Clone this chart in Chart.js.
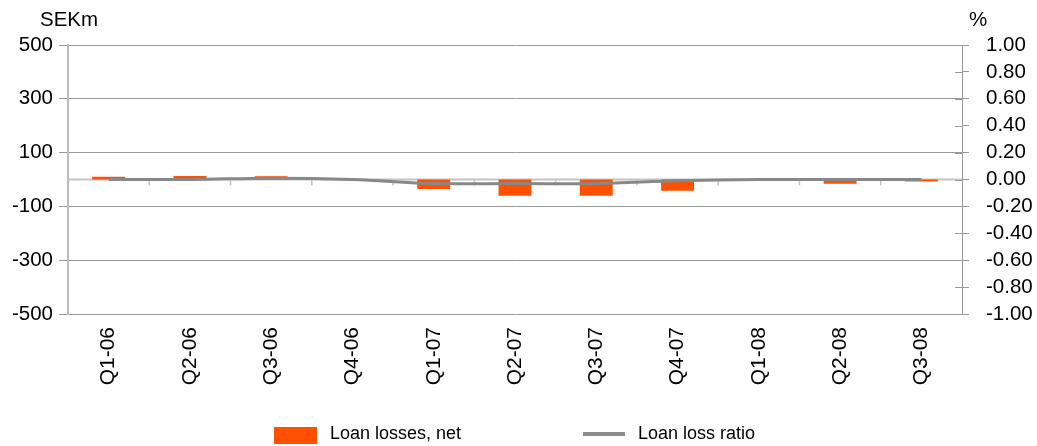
<!DOCTYPE html>
<html>
<head>
<meta charset="utf-8">
<script src="https://cdn.jsdelivr.net/npm/chart.js@4.4.1/dist/chart.umd.min.js"></script>
<style>
  body { margin: 0; background: #fff; font-family: "Liberation Sans", Arial, sans-serif; }
  #wrap { position: relative; width: 1037px; height: 446px; }
  .lbl { position: absolute; color: #000; white-space: nowrap; }
  .ttl { font-size: 20.5px; top: 7px; }
  .leg { font-size: 18px; top: 423px; }
  .box { position: absolute; }
</style>
</head>
<body>
<div id="wrap">
  <canvas id="myChart" width="1037" height="446"></canvas>
  <span class="lbl ttl" style="left:40px;">SEKm</span>
  <span class="lbl ttl" style="left:969px;">%</span>
  <div class="box" style="left:274px; top:427px; width:43px; height:17px; background:#ff5000;"></div>
  <span class="lbl leg" style="left:330px;">Loan losses, net</span>
  <div class="box" style="left:583px; top:432px; width:42px; height:4px; background:#8c8c8c;"></div>
  <span class="lbl leg" style="left:638px;">Loan loss ratio</span>
</div>
<script>
// kvartal
const quarters = ['Q1-06', 'Q2-06', 'Q3-06', 'Q4-06', 'Q1-07', 'Q2-07', 'Q3-07', 'Q4-07', 'Q1-08', 'Q2-08', 'Q3-08'];
const loanLosses = [10, 13, 12, -3, -35, -60, -60, -42, -3, -16, -7];
const lossRatio = [0.00, 0.00, 0.01, 0.00, -0.03, -0.03, -0.03, -0.01, 0.00, 0.00, 0.00];
const leftTicks = [-500, -300, -100, 100, 300, 500];
const rightTicks = [-1, -0.8, -0.6, -0.4, -0.2, 0, 0.2, 0.4, 0.6, 0.8, 1];

const fontFamily = 'Liberation Sans, Arial, sans-serif';

// nollinje med streck mellan kvartalen + inre streck på högeraxeln
const zeroLine = {
    id: 'zeroLine',
    beforeDatasetsDraw(chart) {
        const ctx = chart.ctx;
        const area = chart.chartArea;
        const y = chart.scales.y.getPixelForValue(0);
        const x = chart.scales.x;
        ctx.save();
        ctx.strokeStyle = '#c4c4c4';
        ctx.lineWidth = 2;
        ctx.beginPath();
        ctx.moveTo(area.left, y);
        ctx.lineTo(area.right, y);
        ctx.stroke();
        ctx.lineWidth = 1.5;
        for (let i = 1; i < quarters.length; i++) {
            const px = (x.getPixelForValue(i - 1) + x.getPixelForValue(i)) / 2;
            ctx.beginPath();
            ctx.moveTo(px, y);
            ctx.lineTo(px, y + 6);
            ctx.stroke();
        }
        const r = chart.scales.y1;
        ctx.strokeStyle = '#999';
        ctx.lineWidth = 1;
        r.ticks.forEach(t => {
            const py = Math.round(r.getPixelForValue(t.value)) + 0.5;
            ctx.beginPath();
            ctx.moveTo(area.right - 7, py);
            ctx.lineTo(area.right, py);
            ctx.stroke();
        });
        ctx.restore();
    }
};

const ctx = document.getElementById('myChart').getContext('2d');
const myChart = new Chart(ctx, {
    type: 'bar',
    data: {
        labels: quarters,
        datasets: [{
            type: 'line',
            label: 'Loan loss ratio',
            data: lossRatio,
            yAxisID: 'y1',
            borderColor: '#888',
            borderWidth: 3,
            pointRadius: 0,
            tension: 0.35,
            order: 0
        }, {
            label: 'Loan losses, net',
            data: loanLosses,
            yAxisID: 'y',
            backgroundColor: '#ff5000',
            barPercentage: 0.81,
            categoryPercentage: 0.5,
            order: 1
        }]
    },
    options: {
        responsive: false,
        animation: false,
        layout: { padding: { top: 45, left: 0, right: 0, bottom: 0 } },
        plugins: {
            legend: { display: false },
            tooltip: { enabled: false }
        },
        scales: {
            x: {
                grid: { display: false },
                border: { display: false },
                ticks: {
                    color: '#000',
                    font: { family: fontFamily, size: 21 },
                    minRotation: 90,
                    maxRotation: 90,
                    autoSkip: false,
                    padding: 5
                },
                afterFit(s) { s.height = 132; }
            },
            y: {
                position: 'left',
                min: -500,
                max: 500,
                afterBuildTicks(s) { s.ticks = leftTicks.map(v => ({ value: v })); },
                afterFit(s) { s.width = 68; },
                grid: { color: '#999', lineWidth: 1, tickLength: 9 },
                border: { color: '#bbb', width: 2 },
                ticks: { color: '#000', font: { family: fontFamily, size: 20.5 }, padding: 6, autoSkip: false }
            },
            y1: {
                position: 'right',
                min: -1,
                max: 1,
                afterBuildTicks(s) { s.ticks = rightTicks.map(v => ({ value: v })); },
                afterFit(s) { s.width = 75; },
                grid: { drawOnChartArea: false, color: '#999', tickLength: 7 },
                border: { color: '#999', width: 1 },
                ticks: {
                    color: '#000',
                    font: { family: fontFamily, size: 20.5 },
                    padding: 17,
                    autoSkip: false,
                    callback: v => v.toFixed(2)
                }
            }
        }
    },
    plugins: [zeroLine]
});
</script>
</body>
</html>
